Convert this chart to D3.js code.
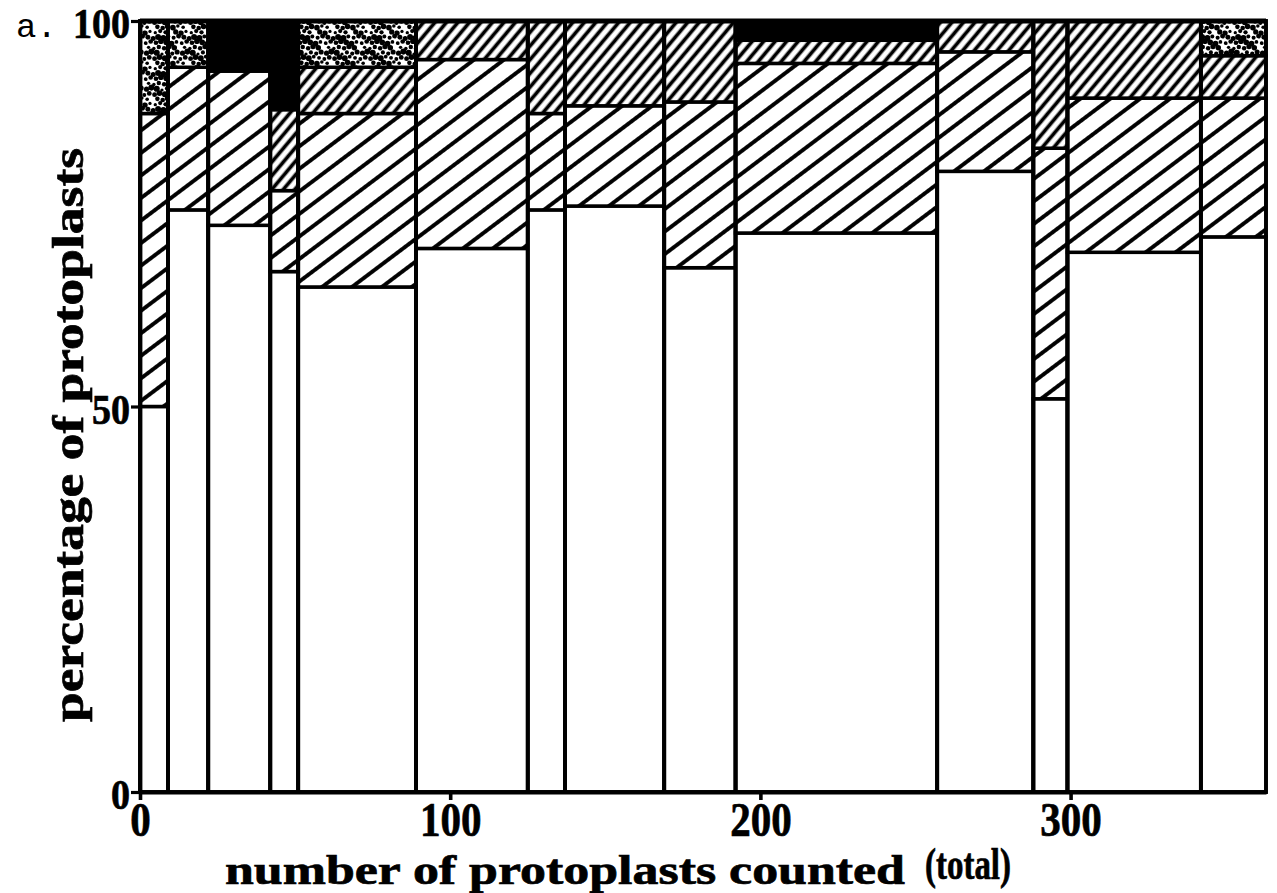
<!DOCTYPE html>
<html>
<head>
<meta charset="utf-8">
<script src="https://cdn.jsdelivr.net/npm/d3@7"></script>
<style>
  html, body { margin: 0; padding: 0; background: #fff; }
  svg { display: block; }
</style>
</head>
<body>
<script>
// Protoplast counts per sample (bar widths) and the percentage split of each sample
const counts      = [9, 13, 20, 9, 38, 36, 12, 32, 23, 65, 31, 11, 43, 21];
const openPct     = [50, 75.5, 73.5, 67.5, 65.5, 70.5, 75.5, 76, 68, 72.5, 80.5, 51, 70, 72];
const hatchedPct  = [38, 18.5, 20, 10.5, 22.5, 24.5, 12.5, 13, 21.5, 22, 15.5, 32.5, 20, 18];
const densePct    = [0, 0, 0, 10.5, 6, 5, 12, 11, 10.5, 3, 4, 16.5, 10, 5.5];
const stippledPct = [12, 6, 0, 0, 6, 0, 0, 0, 0, 0, 0, 0, 0, 4.5];
const solidPct    = [0, 0, 6.5, 11.5, 0, 0, 0, 0, 0, 2.5, 0, 0, 0, 0];

const xTickValues = [0, 100, 200, 300];
const yTickValues = [0, 50, 100];

const layers = [
  { key: "open",     values: openPct,     fill: "#fff" },
  { key: "hatched",  values: hatchedPct,  fill: "url(#hatchWide)" },
  { key: "dense",    values: densePct,    fill: "url(#hatchDense)" },
  { key: "stippled", values: stippledPct, fill: "url(#stipple)" },
  { key: "solid",    values: solidPct,    fill: "#000" }
];

const W = 1277, H = 893;
const total = d3.sum(counts);
const x = d3.scaleLinear().domain([0, total]).range([140, 1266]);
const y = d3.scaleLinear().domain([0, 100]).range([792, 21]);

const svg = d3.select("body").append("svg")
  .attr("width", W).attr("height", H)
  .attr("viewBox", `0 0 ${W} ${H}`);

svg.append("rect").attr("width", W).attr("height", H).attr("fill", "#fff");

// ---- fill patterns ----
const defs = svg.append("defs");

function hatch(id, spacing, width, angle) {
  const p = defs.append("pattern")
    .attr("id", id)
    .attr("patternUnits", "userSpaceOnUse")
    .attr("width", spacing).attr("height", spacing)
    .attr("patternTransform", `rotate(${angle})`);
  p.append("rect").attr("width", spacing).attr("height", spacing).attr("fill", "#fff");
  p.append("line")
    .attr("x1", -1).attr("x2", spacing + 1)
    .attr("y1", spacing / 2).attr("y2", spacing / 2)
    .attr("stroke", "#000").attr("stroke-width", width);
}
hatch("hatchWide", 18, 3.9, -37);
hatch("hatchDense", 8.8, 3.7, -50);

// stipple: irregular dots spread over a tile with a low-discrepancy sequence
(function () {
  const tile = 36;
  const p = defs.append("pattern")
    .attr("id", "stipple")
    .attr("patternUnits", "userSpaceOnUse")
    .attr("width", tile).attr("height", tile);
  p.append("rect").attr("width", tile).attr("height", tile).attr("fill", "#fff");
  const g = 1.32471795724474602596;
  const a1 = 1 / g, a2 = 1 / (g * g);
  const dots = [];
  for (let n = 0; n < 46; n++) {
    const px = ((0.5 + a1 * n) % 1) * tile;
    const py = ((0.5 + a2 * n) % 1) * tile;
    const r = 1.6 + ((n * 0.618034) % 1) * 1.5;
    for (const ox of [-tile, 0, tile]) {
      for (const oy of [-tile, 0, tile]) {
        dots.push({ cx: px + ox, cy: py + oy, r });
      }
    }
  }
  p.selectAll("circle").data(dots).join("circle")
    .attr("cx", d => d.cx).attr("cy", d => d.cy).attr("r", d => d.r)
    .attr("fill", "#000");
})();

// ---- bars: one column per sample, stacked segments ----
const starts = d3.cumsum([0, ...counts]);
const segments = [];
counts.forEach((n, i) => {
  let base = 0;
  layers.forEach(layer => {
    const v = layer.values[i];
    if (v > 0) {
      segments.push({ i, x0: starts[i], x1: starts[i] + n, y0: base, y1: base + v, fill: layer.fill, key: layer.key });
    }
    base += v;
  });
});

svg.append("g").attr("class", "segments")
  .selectAll("rect").data(segments).join("rect")
  .attr("x", d => x(d.x0))
  .attr("width", d => x(d.x1) - x(d.x0))
  .attr("y", d => y(d.y1))
  .attr("height", d => y(d.y0) - y(d.y1))
  .attr("fill", d => d.fill)
  .attr("stroke", "#000")
  .attr("stroke-width", 3.5);

// column outlines
svg.append("g").attr("class", "columns")
  .selectAll("rect").data(counts).join("rect")
  .attr("x", (n, i) => x(starts[i]))
  .attr("width", (n, i) => x(starts[i] + n) - x(starts[i]))
  .attr("y", y(100))
  .attr("height", y(0) - y(100))
  .attr("fill", "none")
  .attr("stroke", "#000")
  .attr("stroke-width", 3.8);

// top rule
svg.append("line")
  .attr("x1", x(0)).attr("x2", x(total))
  .attr("y1", y(100)).attr("y2", y(100))
  .attr("stroke", "#000").attr("stroke-width", 5);

// ---- axes ----
const serif = "'Liberation Serif', 'Times New Roman', serif";

function heavy(sel, size) {
  sel.attr("fill", "#000")
    .attr("stroke", "#000")
    .attr("stroke-width", 0.7)
    .style("font-family", serif)
    .style("font-weight", "bold")
    .style("font-size", size + "px");
  return sel;
}

const yAxis = svg.append("g")
  .attr("transform", `translate(${x(0)},0)`)
  .call(d3.axisLeft(y).tickValues(yTickValues).tickFormat(d3.format("d")).tickSize(9).tickSizeOuter(0).tickPadding(1));
yAxis.select(".domain").attr("stroke", "#000").attr("stroke-width", 3.8);
yAxis.selectAll(".tick line").attr("stroke", "#000").attr("stroke-width", 3.2);
heavy(yAxis.selectAll(".tick text"), 42)
  .attr("dy", "0.4em")
  .attr("textLength", d => String(d).length * 19)
  .attr("lengthAdjust", "spacingAndGlyphs");

const xAxis = svg.append("g")
  .attr("transform", `translate(0,${y(0)})`)
  .call(d3.axisBottom(x).tickValues(xTickValues).tickFormat(d3.format("d")).tickSize(8).tickSizeOuter(0).tickPadding(2));
xAxis.select(".domain").attr("stroke", "#000").attr("stroke-width", 3.8);
xAxis.selectAll(".tick line").attr("stroke", "#000").attr("stroke-width", 3.6);
heavy(xAxis.selectAll(".tick text"), 48)
  .attr("textLength", d => String(d).length * 20.5)
  .attr("lengthAdjust", "spacingAndGlyphs");

// ---- titles ----
heavy(svg.append("text"), 44)
  .attr("transform", "translate(83,435) rotate(-90)")
  .attr("text-anchor", "middle")
  .attr("textLength", 574)
  .attr("lengthAdjust", "spacingAndGlyphs")
  .text("percentage of protoplasts");

heavy(svg.append("text"), 42)
  .attr("x", 225).attr("y", 884)
  .attr("textLength", 680)
  .attr("lengthAdjust", "spacingAndGlyphs")
  .text("number of protoplasts counted");

heavy(svg.append("text"), 44)
  .attr("x", 925).attr("y", 879)
  .attr("textLength", 86)
  .attr("lengthAdjust", "spacingAndGlyphs")
  .text("(total)");

svg.append("text")
  .attr("x", 16).attr("y", 37)
  .attr("fill", "#000")
  .style("font-family", "'Liberation Mono', 'Courier New', monospace")
  .style("font-size", "34px")
  .text("a.");
</script>
</body>
</html>
